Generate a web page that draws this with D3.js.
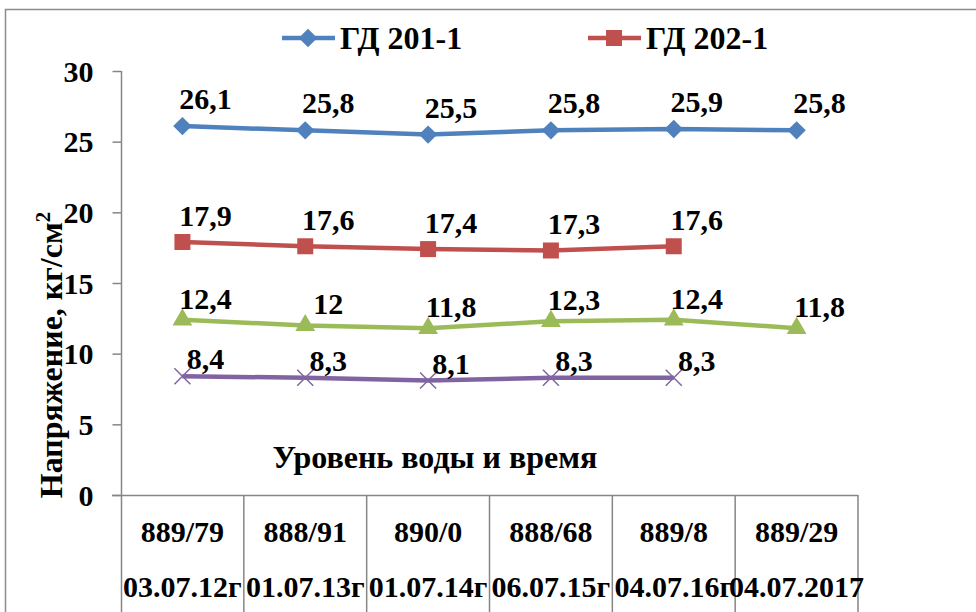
<!DOCTYPE html>
<html lang="ru">
<head>
<meta charset="UTF-8">
<title>Напряжение</title>
<script src="https://d3js.org/d3.v7.min.js"></script>
<style>
    body { margin: 0; background: #fff; }
    text { font-family: "Liberation Serif", "Times New Roman", serif; font-weight: bold; fill: #000; }
</style>
</head>
<body>
<svg id="chart" width="976" height="612"></svg>
<script>
    // данные
    var levels = ["889/79", "888/91", "890/0", "888/68", "889/8", "889/29"];
    var dates = ["03.07.12г", "01.07.13г", "01.07.14г", "06.07.15г", "04.07.16г", "04.07.2017"];
    var gd201 = [26.1, 25.8, 25.5, 25.8, 25.9, 25.8];
    var gd202 = [17.9, 17.6, 17.4, 17.3, 17.6];
    var greenVals = [12.4, 12, 11.8, 12.3, 12.4, 11.8];
    var purpleVals = [8.4, 8.3, 8.1, 8.3, 8.3];
    var yTicks = [0, 5, 10, 15, 20, 25, 30];

    var series = [
        { name: "ГД 201-1", values: gd201, color: "#4F81BD", marker: "diamond", legend: true, labelDy: -17 },
        { name: "ГД 202-1", values: gd202, color: "#C0504D", marker: "square", legend: true, labelDy: -16 },
        { name: "", values: greenVals, color: "#9BBB59", marker: "triangle", legend: false, labelDy: -11 },
        { name: "", values: purpleVals, color: "#8064A2", marker: "x", legend: false, labelDy: -7 }
    ];

    var svg = d3.select("#chart");

    // рамка
    svg.append("rect")
        .attr("x", 5.5).attr("y", 9.5)
        .attr("width", 1000).attr("height", 700)
        .attr("fill", "none").attr("stroke", "#8c8c8c").attr("stroke-width", 1.5);

    var x = d3.scaleBand().domain(levels).range([121, 858]);
    var y = d3.scaleLinear().domain([0, 30]).range([495, 71]);
    function cx(i) { return x(levels[i]) + x.bandwidth() / 2; }

    // ось Y
    var yAxis = svg.append("g")
        .attr("transform", "translate(121.5,0)")
        .call(d3.axisLeft(y).tickValues(yTicks).tickSize(9).tickPadding(19));
    yAxis.select(".domain").attr("stroke", "#868686").attr("stroke-width", 1.5).attr("d", "M0,71V612");
    yAxis.selectAll(".tick line").attr("stroke", "#868686").attr("stroke-width", 1.5);
    yAxis.selectAll(".tick text")
        .attr("font-size", 30)
        .attr("font-family", "Liberation Serif")
        .attr("font-weight", "bold")
        .attr("dy", "0.34em");

    // ось X и разделители категорий
    svg.append("line")
        .attr("x1", 112).attr("x2", 858)
        .attr("y1", y(0) + 0.5).attr("y2", y(0) + 0.5)
        .attr("stroke", "#868686").attr("stroke-width", 1.5);
    levels.forEach(function (c, i) {
        var xe = x(c) + x.bandwidth();
        svg.append("line")
            .attr("x1", xe).attr("x2", xe)
            .attr("y1", y(0)).attr("y2", 612)
            .attr("stroke", "#868686").attr("stroke-width", 1.5);
        svg.append("text")
            .attr("x", cx(i)).attr("y", 542)
            .attr("text-anchor", "middle").attr("font-size", 30)
            .text(c);
        svg.append("text")
            .attr("x", cx(i)).attr("y", 597)
            .attr("text-anchor", "middle").attr("font-size", 30)
            .text(dates[i]);
    });

    // подписи осей
    var yt = svg.append("text")
        .attr("transform", "translate(62,355) rotate(-90)")
        .attr("text-anchor", "middle")
        .attr("font-size", 32);
    yt.append("tspan").text("Напряжение, кг/см");
    yt.append("tspan").attr("dy", -12).attr("font-size", 21).text("2");

    svg.append("text")
        .attr("x", 435).attr("y", 468)
        .attr("text-anchor", "middle").attr("font-size", 32)
        .text("Уровень воды и время");

    function drawMarker(g, type, color) {
        if (type === "diamond") {
            g.append("path").attr("d", d3.symbol(d3.symbolSquare, 170)())
                .attr("fill", color).attr("transform", "rotate(45)");
        } else if (type === "square") {
            g.append("path").attr("d", d3.symbol(d3.symbolSquare, 256)()).attr("fill", color);
        } else if (type === "triangle") {
            g.append("path").attr("d", d3.symbol(d3.symbolTriangle, 170)()).attr("fill", color);
        } else {
            g.append("path").attr("d", "M-8,-8L8,8M-8,8L8,-8")
                .attr("stroke", color).attr("stroke-width", 1.5).attr("fill", "none");
        }
    }

    var line = d3.line()
        .x(function (d, i) { return cx(i); })
        .y(function (d) { return y(d); });

    series.forEach(function (s) {
        svg.append("path")
            .datum(s.values)
            .attr("d", line)
            .attr("fill", "none")
            .attr("stroke", s.color)
            .attr("stroke-width", 4.5)
            .attr("stroke-linejoin", "round");
        s.values.forEach(function (v, i) {
            var g = svg.append("g").attr("transform", "translate(" + cx(i) + "," + y(v) + ")");
            drawMarker(g, s.marker, s.color);
        });
        s.values.forEach(function (v, i) {
            svg.append("text")
                .attr("x", cx(i) + 23).attr("y", y(v) + s.labelDy)
                .attr("text-anchor", "middle").attr("font-size", 30)
                .text(String(v).replace(".", ","));
        });
    });

    // легенда
    var legendX = [282, 588];
    series.filter(function (s) { return s.legend; }).forEach(function (s, i) {
        var g = svg.append("g").attr("transform", "translate(" + legendX[i] + ",38)");
        g.append("line").attr("x1", 0).attr("x2", 53)
            .attr("stroke", s.color).attr("stroke-width", 4.5);
        var m = g.append("g").attr("transform", "translate(26,0)");
        drawMarker(m, s.marker, s.color);
        g.append("text").attr("x", 58).attr("y", 11).attr("font-size", 32).text(s.name);
    });
</script>
</body>
</html>
